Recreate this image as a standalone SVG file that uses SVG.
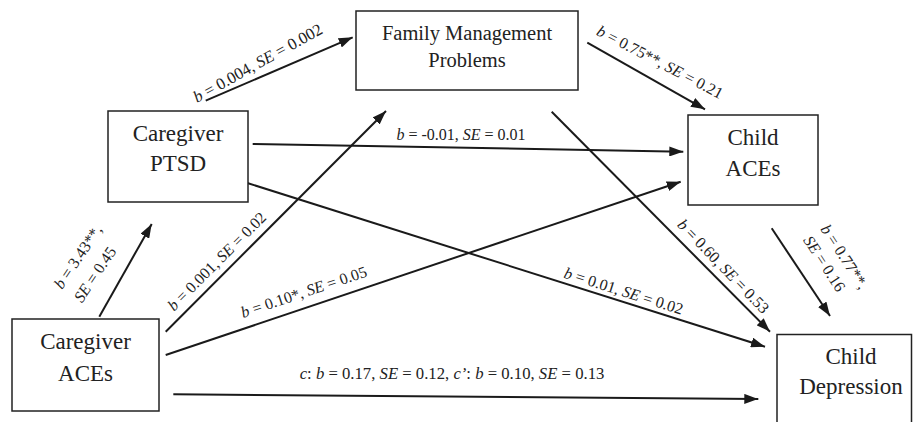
<svg xmlns="http://www.w3.org/2000/svg" width="913" height="422" viewBox="0 0 913 422">
<style>
.box{fill:#fff;stroke:#222;stroke-width:1.5}
text{font-family:'Liberation Serif','Times New Roman','DejaVu Serif',serif}
.nt{font-size:23px;fill:#222;text-anchor:middle}
.nts{font-size:20.5px}
.ln{stroke:#1a1a1a;stroke-width:2;fill:none;marker-end:url(#ah)}
.lb{font-size:16px;fill:#222;text-anchor:start}
.mid{text-anchor:middle}
.i{font-style:italic}
</style>
<defs>
<marker id="ah" markerUnits="userSpaceOnUse" markerWidth="14" markerHeight="10" refX="14" refY="5" orient="auto">
<path d="M0,0 L14,5 L0,10 z" fill="#1a1a1a"/>
</marker>
</defs>
<rect width="913" height="422" fill="#fff"/>
<g id="connectors">
<g id="e-ptsd-fmp"><line class="ln" x1="205.7" y1="100.7" x2="352.7" y2="37.3"/>
<text class="lb" style="font-size:16.6px" transform="translate(197,103) rotate(-29)"><tspan class="i">b</tspan> = 0.004, <tspan class="i">SE</tspan> = 0.002</text></g>
<g id="e-cga-fmp"><line class="ln" x1="165.7" y1="331.7" x2="386" y2="111"/>
<text class="lb" transform="translate(174,311.7) rotate(-45)"><tspan class="i">b</tspan> = 0.001, <tspan class="i">SE</tspan> = 0.02</text></g>
<g id="e-ptsd-cace"><line class="ln" x1="252.7" y1="144" x2="683.3" y2="151.7"/>
<text class="lb mid" x="461" y="140"><tspan class="i">b</tspan> = -0.01, <tspan class="i">SE</tspan> = 0.01</text></g>
<g id="e-ptsd-dep"><line class="ln" x1="247.3" y1="183" x2="765" y2="346.7"/>
<text class="lb" transform="translate(563,277.5) rotate(17.5)"><tspan class="i">b</tspan> = 0.01, <tspan class="i">SE</tspan> = 0.02</text></g>
<g id="e-fmp-cace"><line class="ln" x1="587.3" y1="42.7" x2="705" y2="109.3"/>
<text class="lb" transform="translate(595.5,34.5) rotate(27.5)"><tspan class="i">b</tspan> = 0.75**, <tspan class="i">SE</tspan> = 0.21</text></g>
<g id="e-fmp-dep"><line class="ln" x1="551.7" y1="111.7" x2="770" y2="331.7"/>
<text class="lb" transform="translate(676.5,225.5) rotate(46)"><tspan class="i">b</tspan> = 0.60, <tspan class="i">SE</tspan> = 0.53</text></g>
<g id="e-cga-cace"><line class="ln" x1="165.7" y1="355" x2="680.7" y2="181.7"/>
<text class="lb" transform="translate(243,318) rotate(-18.5)"><tspan class="i">b</tspan> = 0.10*, <tspan class="i">SE</tspan> = 0.05</text></g>
<g id="e-cga-ptsd"><line class="ln" x1="99.3" y1="316.7" x2="151.7" y2="224"/>
<text class="lb" transform="translate(62,290) rotate(-56)"><tspan x="0" y="0"><tspan class="i">b</tspan> = 3.43**,</tspan><tspan x="0" dy="24"><tspan class="i">SE</tspan> = 0.45</tspan></text></g>
<g id="e-cace-dep"><line class="ln" x1="771.7" y1="228.3" x2="830" y2="316"/>
<text class="lb" transform="translate(820,229) rotate(57)"><tspan x="0" y="0"><tspan class="i">b</tspan> = 0.77**,</tspan><tspan x="0" dy="20.5"><tspan class="i">SE</tspan> = 0.16</tspan></text></g>
<g id="e-cga-dep"><line class="ln" x1="173.3" y1="394.3" x2="758.3" y2="399"/>
<text class="lb mid" style="font-size:16.7px" x="452" y="379"><tspan class="i">c</tspan>: <tspan class="i">b</tspan> = 0.17, <tspan class="i">SE</tspan> = 0.12, <tspan class="i">c’</tspan>: <tspan class="i">b</tspan> = 0.10, <tspan class="i">SE</tspan> = 0.13</text></g>
</g>
<g id="n-fmp"><rect class="box" x="356" y="11" width="222" height="79"/>
<text class="nt nts" x="467" y="39.5">Family Management</text><text class="nt nts" x="467" y="67">Problems</text></g>
<g id="n-ptsd"><rect class="box" x="108" y="111" width="140" height="91"/>
<text class="nt" x="178" y="141">Caregiver</text><text class="nt" x="178" y="171">PTSD</text></g>
<g id="n-cace"><rect class="box" x="688" y="115" width="130" height="90"/>
<text class="nt" x="753" y="145">Child</text><text class="nt" x="753" y="176">ACEs</text></g>
<g id="n-cga"><rect class="box" x="12" y="319" width="147" height="92"/>
<text class="nt" x="85.5" y="349">Caregiver</text><text class="nt" x="85.5" y="380.5">ACEs</text></g>
<g id="n-dep"><rect class="box" x="777" y="334.5" width="134.5" height="100"/>
<text class="nt" x="851" y="363.5">Child</text><text class="nt" x="851" y="393.5">Depression</text></g>
</svg>
